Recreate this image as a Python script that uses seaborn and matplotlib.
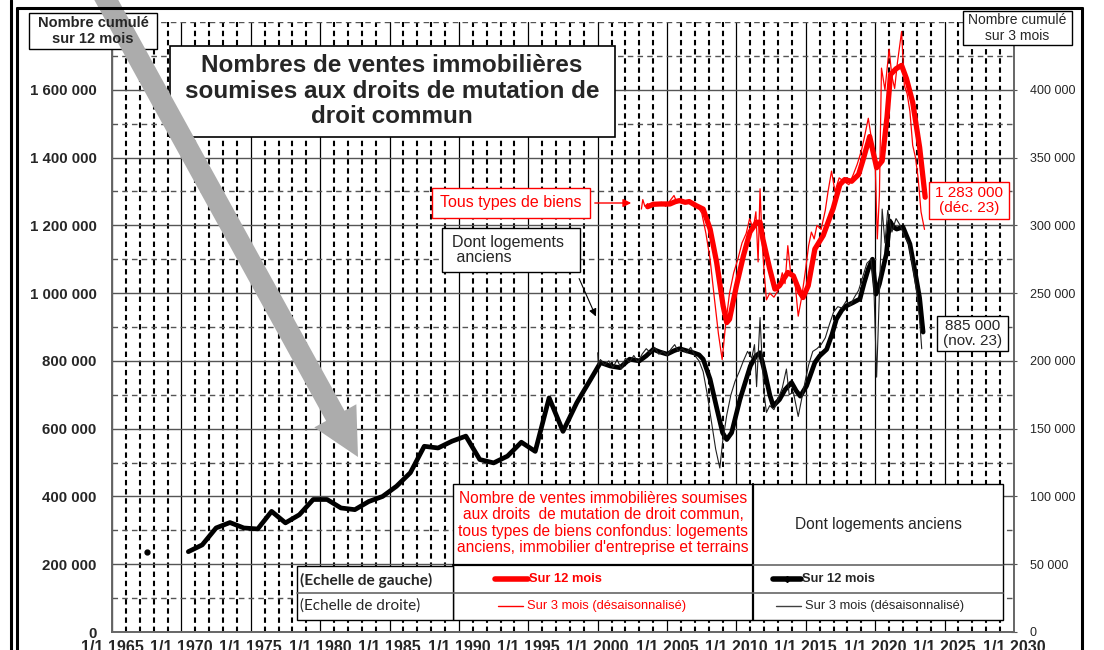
import matplotlib
matplotlib.use("Agg")
import numpy as np
import matplotlib.pyplot as plt
import seaborn as sns
from matplotlib.lines import Line2D
from matplotlib.patches import Rectangle, FancyArrow, FancyArrowPatch
from matplotlib.ticker import MultipleLocator, FuncFormatter

# ---- data (thousands of sales) ----
# old dwellings, 12-month cumulated, annual points before 2000
annual_years = [1970.5, 1971.5, 1972.5, 1973.5, 1974.5, 1975.5, 1976.5, 1977.5, 1978.5, 1979.5,
                1980.5, 1981.5, 1982.5, 1983.5, 1984.5, 1985.5, 1986.5, 1987.5, 1988.5, 1989.5,
                1990.5, 1991.5, 1992.5, 1993.5, 1994.5, 1995.5, 1996.5, 1997.5, 1998.5, 1999.5]
annual_old = [237, 257, 307, 323, 307, 304, 356, 322, 346, 391,
              391, 366, 361, 385, 400, 430, 470, 548, 543, 563,
              578, 509, 499, 519, 560, 533, 691, 592, 677, 746]
lone_year = [1967.5]
lone_old = [237]

# old dwellings, 12-month cumulated, monthly period
old_12m_dates = [2000.2, 2000.9, 2001.6, 2002.3, 2003.0, 2003.5, 2004.0, 2004.5, 2005.0, 2005.5,
                 2005.9, 2006.4, 2006.9, 2007.3, 2007.6, 2008.1, 2008.6, 2009.0, 2009.3, 2009.65,
                 2010.25, 2011.0, 2011.4, 2011.7, 2012.05, 2012.4, 2012.65, 2013.1, 2013.5, 2013.97,
                 2014.3, 2014.6, 2015.05, 2015.65, 2016.0, 2016.5, 2016.9, 2017.2, 2017.6, 2017.9,
                 2018.4, 2018.9, 2019.2, 2019.5, 2019.8, 2020.05, 2020.3, 2020.8, 2021.05, 2021.3,
                 2021.55, 2022.0, 2022.5, 2022.9, 2023.2, 2023.45]
old_12m = [795, 785, 780, 805, 800, 815, 834, 826, 820, 830,
           836, 830, 824, 818, 805, 746, 657, 588, 568, 588,
           686, 785, 815, 824, 765, 700, 667, 686, 715, 736,
           712, 696, 726, 795, 815, 834, 880, 923, 950, 962,
           972, 983, 1030, 1071, 1100, 997, 1027, 1115, 1213, 1195,
           1189, 1195, 1145, 1056, 985, 885]

# all property types, 12-month cumulated
all_12m_dates = [2003.6, 2004.0, 2004.5, 2005.2, 2005.6, 2005.9, 2006.3, 2006.6, 2007.1, 2007.6,
                 2008.1, 2008.57, 2009.04, 2009.3, 2009.5, 2010.0, 2010.5, 2010.97, 2011.45, 2011.7,
                 2011.9, 2012.4, 2012.77, 2013.1, 2013.7, 2014.1, 2014.57, 2014.8, 2015.17, 2015.65,
                 2016.25, 2016.97, 2017.45, 2017.8, 2018.3, 2018.8, 2019.1, 2019.6, 2019.85, 2020.1,
                 2020.5, 2020.85, 2021.1, 2021.5, 2021.9, 2022.25, 2022.7, 2023.2, 2023.6]
all_12m = [1255, 1262, 1263, 1263, 1270, 1273, 1268, 1270, 1258, 1248,
           1189, 1091, 962, 913, 923, 1022, 1110, 1180, 1209, 1209,
           1160, 1071, 1012, 1022, 1061, 1051, 1002, 987, 1022, 1130,
           1170, 1250, 1320, 1335, 1330, 1350, 1390, 1462, 1416, 1370,
           1390, 1520, 1645, 1662, 1672, 1633, 1563, 1430, 1283]

# all property types, 3-month cumulated, seasonally adjusted (right scale)
all_3m_dates = [2003.15, 2003.25, 2003.4, 2003.6, 2003.8, 2004.0, 2004.3, 2004.6, 2004.9, 2005.2,
                2005.5, 2005.7, 2006.0, 2006.3, 2006.6, 2006.9, 2007.2, 2007.5, 2007.8, 2008.1,
                2008.4, 2008.7, 2008.97, 2009.2, 2009.5, 2009.8, 2010.1, 2010.4, 2010.7, 2010.95,
                2011.2, 2011.4, 2011.56, 2011.7, 2011.85, 2012.0, 2012.16, 2012.4, 2012.7, 2013.0,
                2013.3, 2013.5, 2013.7, 2013.9, 2014.2, 2014.45, 2014.7, 2014.95, 2015.2, 2015.4,
                2015.6, 2015.8, 2016.1, 2016.4, 2016.6, 2016.85, 2017.1, 2017.4, 2017.8, 2018.1,
                2018.4, 2018.7, 2019.0, 2019.2, 2019.5, 2019.8, 2020.0, 2020.15, 2020.3, 2020.45,
                2020.7, 2021.0, 2021.2, 2021.4, 2021.6, 2021.9, 2022.1, 2022.3, 2022.5, 2022.7,
                2022.9, 2023.1, 2023.3, 2023.55]
all_3m = [312, 319, 314, 316, 314, 317, 315, 317, 314, 318,
          322, 317, 319, 317, 319, 315, 314, 309, 294, 275,
          247, 220, 201, 225, 250, 265, 275, 287, 294, 305,
          297, 310, 273, 327, 287, 265, 245, 250, 247, 252,
          265, 257, 285, 265, 260, 233, 247, 265, 285, 295,
          290, 300, 297, 311, 325, 340, 325, 335, 332, 330,
          337, 345, 355, 364, 379, 359, 345, 290, 322, 416,
          400, 430, 410, 401, 420, 443, 403, 397, 384, 359,
          350, 334, 310, 297]

# old dwellings, 3-month cumulated, seasonally adjusted (right scale)
old_3m_dates = [2000.0, 2000.05, 2000.2, 2000.5, 2000.8, 2001.1, 2001.4, 2001.7, 2002.0, 2002.3,
                2002.6, 2002.9, 2003.2, 2003.5, 2003.8, 2004.1, 2004.4, 2004.7, 2005.0, 2005.3,
                2005.55, 2005.8, 2006.1, 2006.4, 2006.7, 2007.0, 2007.3, 2007.6, 2007.9, 2008.2,
                2008.5, 2008.8, 2009.0, 2009.3, 2009.6, 2009.9, 2010.2, 2010.5, 2010.8, 2011.1,
                2011.3, 2011.45, 2011.7, 2011.85, 2012.0, 2012.16, 2012.4, 2012.7, 2013.0, 2013.3,
                2013.6, 2013.8, 2014.1, 2014.45, 2014.7, 2014.95, 2015.2, 2015.5, 2015.8, 2016.1,
                2016.4, 2016.7, 2017.0, 2017.3, 2017.6, 2017.9, 2018.2, 2018.5, 2018.8, 2019.1,
                2019.4, 2019.7, 2019.9, 2020.1, 2020.3, 2020.5, 2020.7, 2020.9, 2021.2, 2021.5,
                2021.8, 2022.1, 2022.4, 2022.7, 2023.0, 2023.2, 2023.35]
old_3m = [206, 197, 201, 197, 200, 195, 201, 194, 202, 199,
          204, 199, 205, 209, 206, 210, 205, 207, 204, 209,
          212, 207, 209, 206, 210, 204, 200, 192, 175, 155,
          135, 121, 140, 160, 175, 185, 192, 200, 207, 202,
          212, 181, 232, 200, 175, 162, 167, 164, 172, 180,
          194, 175, 177, 159, 172, 185, 197, 207, 209, 212,
          217, 227, 236, 240, 239, 244, 241, 247, 252, 262,
          272, 275, 255, 188, 250, 312, 287, 311, 295, 305,
          300, 292, 287, 270, 250, 230, 209]

year_ticks = list(range(1965, 2031, 5))

# ---- figure ----
sns.set_style("white")
plt.rcParams["font.family"] = ["Liberation Sans", "DejaVu Sans"]

W, H = 1104, 650
fig = plt.figure(figsize=(W / 100, H / 100), dpi=100)
fig.patch.set_facecolor("white")


def fx(x):
    return x / W


def fy(y):
    return 1 - y / H


ax = fig.add_axes([fx(112), fy(632), fx(1014) - fx(112), fy(22) - fy(632)])
ax2 = ax.twinx()

K = 1000
old_x = np.array(annual_years + old_12m_dates)
old_y = np.array(annual_old + old_12m) * K

sns.lineplot(x=old_x, y=old_y, ax=ax, color="black", linewidth=3.4, estimator=None, sort=False, zorder=3)
sns.lineplot(x=np.array(all_12m_dates), y=np.array(all_12m) * K, ax=ax, color="#ff0000",
             linewidth=3.8, estimator=None, sort=False, zorder=3)
ax.plot(lone_year, np.array(lone_old) * K, "o", color="black", ms=3.5, zorder=3)

sns.lineplot(x=np.array(old_3m_dates), y=np.array(old_3m) * K, ax=ax2, color="#202020",
             linewidth=0.8, estimator=None, sort=False)
sns.lineplot(x=np.array(all_3m_dates), y=np.array(all_3m) * K, ax=ax2, color="#ff0000",
             linewidth=0.9, estimator=None, sort=False)

ax.set_xlim(1965, 2030)
ax.set_ylim(0, 1800000)
ax2.set_ylim(0, 450000)
ax.set_xlabel("")
ax.set_ylabel("")
ax2.set_ylabel("")

# grid
ax.set_axisbelow(True)
ax.xaxis.set_major_locator(MultipleLocator(5))
ax.xaxis.set_minor_locator(MultipleLocator(1))
ax.set_yticks(range(0, 1600001, 200000))
ax.yaxis.set_minor_locator(MultipleLocator(100000))
ax.grid(which="major", axis="x", color="black", linewidth=0.9, linestyle="-")
ax.grid(which="minor", axis="x", color="black", linewidth=1.5, linestyle=(0, (2.6, 1.8)))
ax.grid(which="major", axis="y", color="#555555", linewidth=1.0, linestyle="-")
ax.grid(which="minor", axis="y", color="#555555", linewidth=1.0, linestyle=(0, (4, 3)))

space_fmt = FuncFormatter(lambda v, p: f"{int(round(v)):,}".replace(",", " "))
ax.yaxis.set_major_formatter(space_fmt)
ax.set_xticks(year_ticks)
ax.set_xticklabels([f"1/1 {y}" for y in year_ticks], fontsize=11.5, fontweight="bold")
ax.tick_params(axis="y", which="major", labelsize=10.8, length=0, pad=11)
for lab in ax.get_yticklabels():
    lab.set_fontweight("bold")
ax.tick_params(axis="x", which="major", length=0, pad=6)
ax.tick_params(axis="x", which="minor", length=4, direction="inout", color="#555555")
ax.tick_params(axis="y", which="minor", length=0)

ax2.set_yticks(range(0, 400001, 50000))
ax2.yaxis.set_major_formatter(space_fmt)
ax2.tick_params(axis="y", labelsize=9, length=5, direction="inout", color="#555555", pad=9)
ax2.grid(False)

for a in (ax, ax2):
    a.spines["top"].set_visible(False)
    for s in ("left", "right", "bottom"):
        a.spines[s].set_color("#666666")
        a.spines[s].set_linewidth(1.2)


# ---- figure-level decorations ----
def box(x0, y0, x1, y1, ec="black", lw=1.0, fc="white", z=5):
    fig.add_artist(Rectangle((fx(x0), fy(y1)), fx(x1) - fx(x0), fy(y0) - fy(y1),
                             transform=fig.transFigure, fc=fc, ec=ec, lw=lw, zorder=z))


def hline(x0, x1, y, color="black", lw=1.0, z=6):
    fig.add_artist(Line2D([fx(x0), fx(x1)], [fy(y), fy(y)], transform=fig.transFigure,
                          color=color, lw=lw, zorder=z))


def vline(x, y0, y1, color="black", lw=1.0, z=6):
    fig.add_artist(Line2D([fx(x), fx(x)], [fy(y0), fy(y1)], transform=fig.transFigure,
                          color=color, lw=lw, zorder=z))


# outer frame
vline(11, 0, 650, lw=2.2)
vline(17, 8, 650, lw=2.2)
hline(17, 1082, 8, lw=2.2)
vline(1082, 8, 650, lw=2.2)

# axis captions
box(29, 13, 157, 49, lw=1.0)
fig.text(fx(93), fy(31), "Nombre cumulé\nsur 12 mois", ha="center", va="center", fontsize=10.5,
         fontweight="bold", linespacing=1.1, zorder=7)
box(963, 11, 1072, 45, lw=1.0)
fig.text(fx(1017.5), fy(28), "Nombre cumulé\nsur 3 mois", ha="center", va="center", fontsize=10,
         linespacing=1.1, zorder=7)

# title
box(170, 46, 615, 137, lw=1.2)
fig.text(fx(392), fy(91), "Nombres de ventes immobilières\nsoumises aux droits de mutation de\ndroit commun",
         ha="center", va="center", fontsize=17.5, fontweight="bold", linespacing=1.12, zorder=7)

# gray arrow (inches)
fig.add_artist(FancyArrow(1.03, 6.56, 2.55, -4.63, width=0.21, head_width=0.48,
                          head_length=0.47, length_includes_head=True, transform=fig.dpi_scale_trans,
                          fc="#acacac", ec="none", zorder=5.5))

# series labels
box(432, 188, 590, 218, ec="#ff0000", lw=1.0)
fig.text(fx(511), fy(203), "Tous types de biens", ha="center", va="center", fontsize=11.5,
         color="#ff0000", zorder=7)
fig.add_artist(FancyArrowPatch((fx(592), fy(203)), (fx(634), fy(203)),
               transform=fig.transFigure, arrowstyle="-|>", mutation_scale=12, color="#ff0000",
               lw=1.0, zorder=7))
box(442, 228, 580, 272, lw=1.0)
fig.text(fx(452), fy(250), "Dont logements\n anciens", ha="left", va="center", fontsize=11.5,
         linespacing=1.05, zorder=7)
fig.add_artist(FancyArrowPatch((fx(578), fy(276)), (fx(597), fy(319)),
               transform=fig.transFigure, arrowstyle="-|>", mutation_scale=11, color="black",
               lw=0.8, zorder=7))

box(929, 182, 1009, 219, ec="#ff0000", lw=1.0)
fig.text(fx(969), fy(200.5), "1 283 000\n(déc. 23)", ha="center", va="center", fontsize=11,
         color="#ff0000", linespacing=1.05, zorder=7)
box(937, 316, 1008, 351, lw=1.0)
fig.text(fx(972.5), fy(333.5), "885 000\n(nov. 23)", ha="center", va="center", fontsize=11,
         linespacing=1.05, zorder=7)

# legend table
box(453, 484, 1003, 620, lw=1.0)
box(297, 566, 453, 620, lw=1.0)
vline(753, 484, 620, lw=1.6)
hline(453, 753, 565, lw=1.6)
hline(753, 1003, 565, color="#666666", lw=1.2)
hline(297, 1003, 593, color="#666666", lw=1.2)
fig.text(fx(603), fy(523), "Nombre de ventes immobilières soumises\naux droits  de mutation de droit commun,\n"
         "tous types de biens confondus: logements\nanciens, immobilier d'entreprise et terrains",
         ha="center", va="center", fontsize=11.2, color="#ff0000", linespacing=1.12, zorder=7)
fig.text(fx(878), fy(525), "Dont logements anciens", ha="center", va="center", fontsize=11.2, zorder=7)

fig.add_artist(Line2D([fx(495), fx(528)], [fy(579), fy(579)], transform=fig.transFigure,
                      color="#ff0000", lw=4, zorder=7))
fig.text(fx(529), fy(579), "Sur 12 mois", ha="left", va="center", fontsize=9.3, fontweight="bold",
         color="#ff0000", zorder=7)
fig.add_artist(Line2D([fx(498), fx(523)], [fy(606), fy(606)], transform=fig.transFigure,
                      color="#ff0000", lw=1.0, zorder=7))
fig.text(fx(527), fy(606), "Sur 3 mois (désaisonnalisé)", ha="left", va="center", fontsize=9.3,
         color="#ff0000", zorder=7)
fig.add_artist(Line2D([fx(773), fx(787), fx(801)], [fy(579)] * 3, transform=fig.transFigure,
                      color="black", lw=4, marker="D", ms=3, markevery=[1], zorder=7))
fig.text(fx(802), fy(579), "Sur 12 mois", ha="left", va="center", fontsize=9.3, fontweight="bold",
         zorder=7)
fig.add_artist(Line2D([fx(776), fx(801)], [fy(606), fy(606)], transform=fig.transFigure,
                      color="#404040", lw=1.0, zorder=7))
fig.text(fx(805), fy(606), "Sur 3 mois (désaisonnalisé)", ha="left", va="center", fontsize=9.3,
         zorder=7)

fig.text(fx(300), fy(580), "(Echelle de gauche)", ha="left", va="center", fontsize=11.2,
         fontweight="bold", family=["Lato", "DejaVu Sans"], zorder=7)
fig.text(fx(300), fy(606), "(Echelle de droite)", ha="left", va="center", fontsize=11,
         family=["Lato", "DejaVu Sans"], zorder=7)

fig.savefig("out.png", dpi=100, facecolor="white")
